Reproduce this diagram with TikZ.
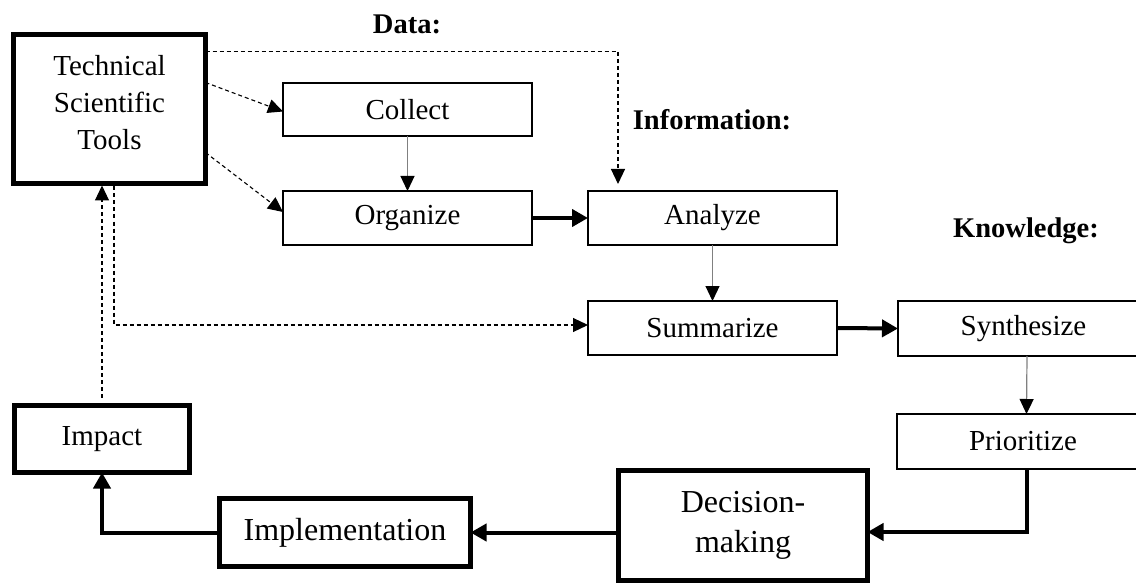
\documentclass[tikz,border=0pt]{standalone}
\usepackage{fontspec}
\setmainfont{Liberation Serif}
\usetikzlibrary{arrows.meta}
\begin{document}
\begin{tikzpicture}[x=1pt,y=-1pt,
  every node/.style={inner sep=0pt,outer sep=0pt,align=center,font=\fontsize{29}{37}\selectfont},
  thinbox/.style={draw=black,line width=2pt},
  thickbox/.style={draw=black,line width=5pt},
  biglbl/.style={font=\fontsize{32}{40}\selectfont},
  hdr/.style={font=\fontsize{28.5}{34}\selectfont\bfseries},
  dasharrow/.style={draw=black,line width=1.1pt,dash pattern=on 4pt off 3pt,-{Triangle[length=15pt,width=14pt]}},
  grayarrow/.style={draw=black!50,line width=1.2pt,-{Triangle[length=15pt,width=14pt,color=black]}},
  thickarrow/.style={draw=black,line width=4pt,-{Triangle[length=16pt,width=17pt]}},
  thickline/.style={draw=black,line width=4pt}
]
\useasboundingbox (0,0) rectangle (1136,583);
\clip (0,0) rectangle (1136,583);
% labels
\node[hdr] (data) at (407,24) {Data:};
\node[hdr] (info) at (712,120) {Information:};
\node[hdr] (know) at (1026,231) {Knowledge:};
% boxes
\node[thickbox,minimum width=192pt,minimum height=149pt] (tech) at (109.5,109) {};
\node (techtxt) at (109.5,102.5) {Technical\\Scientific\\Tools};
\node[thinbox,minimum width=249pt,minimum height=53pt] (collect) at (407.5,109.5) {Collect};
\node[thinbox,minimum width=249pt,minimum height=54pt] (organize) at (407.5,218) {Organize};
\node[thinbox,minimum width=249pt,minimum height=54pt] (analyze) at (712.5,218) {Analyze};
\node[thinbox,minimum width=249pt,minimum height=54pt] (summarize) at (712.5,328) {Summarize};
\node[thinbox,minimum width=251pt,minimum height=55pt] (synth) at (1023.5,328.5) {Synthesize};
\node[thinbox,minimum width=252pt,minimum height=55pt] (prior) at (1023,441.5) {Prioritize};
\node[thickbox,biglbl,minimum width=249pt,minimum height=110pt] (decision) at (743,525.5) {Decision-\\making};
\node[thickbox,biglbl,minimum width=251pt,minimum height=68pt] (impl) at (345,532.5) {Implementation};
\node[thickbox,minimum width=175pt,minimum height=67pt] (impact) at (102,439) {Impact};
% dashed connectors
\draw[dasharrow] ([yshift=26.5pt]tech.east) -- ([yshift=-2pt]collect.west);
\draw[dasharrow] ([yshift=-43.5pt]tech.east) -- ([yshift=6pt]organize.west);
\draw[dasharrow] ([yshift=57.5pt]tech.east) -| ([xshift=-94.5pt,yshift=7pt]analyze.north);
\draw[dasharrow,shorten <=8pt] (impact.north) -- ([yshift=-2pt]impact.north |- tech.south);
\draw[dasharrow] ([xshift=4.5pt,yshift=-3pt]tech.south) |- ([yshift=3pt]summarize.west);
% gray arrows
\draw[grayarrow] (collect.south) -- (organize.north);
\draw[grayarrow] (analyze.south) -- (summarize.north);
\draw[grayarrow] ([xshift=3.5pt]synth.south) -- ([xshift=3.5pt]prior.north);
% thick arrows
\draw[thickarrow] (organize.east) -- (analyze.west);
\draw[thickarrow] (summarize.east) -- (synth.west);
\draw[thickarrow] ([xshift=4pt]prior.south) |- ([yshift=-6.5pt]decision.east);
\draw[thickarrow] (impl.east -| decision.west) -- (impl.east);
\draw[thickarrow] (impl.west) -| (impact.south);
\end{tikzpicture}
\end{document}
